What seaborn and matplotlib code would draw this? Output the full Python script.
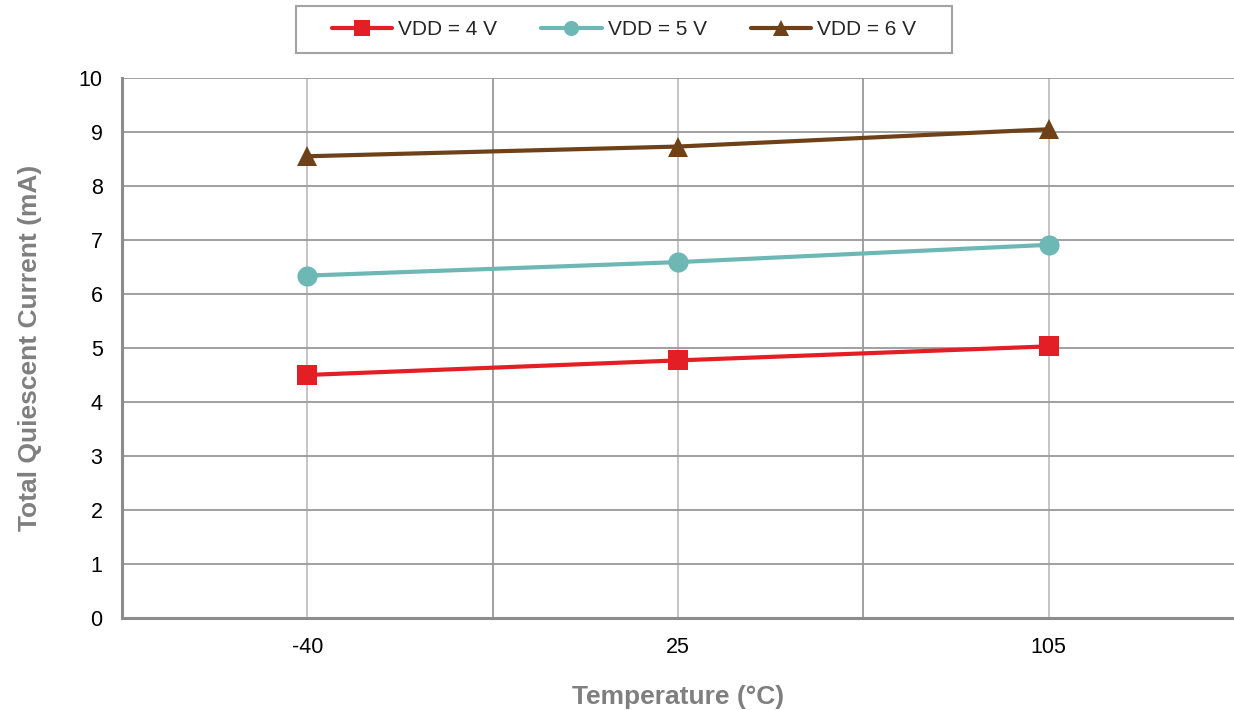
import pandas as pd
import numpy as np
import seaborn as sns
import matplotlib.pyplot as plt
from matplotlib.ticker import FixedLocator

temps = ["-40", "25", "105"]
vdd4 = [4.50, 4.77, 5.03]
vdd5 = [6.34, 6.59, 6.91]
vdd6 = [8.55, 8.73, 9.05]
series_names = ["VDD = 4 V", "VDD = 5 V", "VDD = 6 V"]

rows = []
for name, vals in zip(series_names, [vdd4, vdd5, vdd6]):
    for t, v in zip(temps, vals):
        rows.append({"Temperature": t, "Current": v, "Series": name})
df = pd.DataFrame(rows)

sns.set_style("white")
plt.rcParams['font.family'] = ['Liberation Sans', 'DejaVu Sans']

fig = plt.figure(figsize=(12.34, 7.10), dpi=100)
ax = fig.add_axes([0.0989, 0.1296, 0.9011, 0.7606])

palette = {"VDD = 4 V": "#E31E24", "VDD = 5 V": "#6DB8B5", "VDD = 6 V": "#6F4119"}
markers = {"VDD = 4 V": "s", "VDD = 5 V": "o", "VDD = 6 V": "^"}

sns.lineplot(data=df, x="Temperature", y="Current", hue="Series", style="Series",
             palette=palette, markers=markers, dashes=False, sort=False,
             linewidth=3, markersize=14.5, markeredgewidth=0, ax=ax, zorder=3)

ax.set_xlim(-0.5, 2.5)
ax.set_ylim(0, 10)
ax.set_yticks(range(0, 11))
ax.set_xticks(range(len(temps)))
ax.set_xticklabels(temps)
ax.xaxis.set_minor_locator(FixedLocator([0.5, 1.5]))

ax.grid(True, axis="y", color="#999999", linewidth=1.3, zorder=0)
ax.grid(True, axis="x", which="major", color="#c0c0c0", linewidth=1.3, zorder=0)
ax.grid(True, axis="x", which="minor", color="#999999", linewidth=1.3, zorder=0)

for s in ["top", "right"]:
    ax.spines[s].set_visible(False)
for s in ["left", "bottom"]:
    ax.spines[s].set_color("#8c8c8c")
    ax.spines[s].set_linewidth(2.2)

ax.tick_params(axis="both", which="major", labelsize=15.5, colors="#8c8c8c",
               labelcolor="#000000", length=6, width=1.5, direction="out")
ax.tick_params(axis="x", which="major", colors="#c0c0c0", labelcolor="#000000", pad=8)
ax.tick_params(axis="x", which="minor", length=0)
ax.tick_params(axis="y", pad=8)

ax.set_xlabel("Temperature (°C)", fontsize=19, fontweight="bold", color="#7f7f7f", labelpad=19)
ax.set_ylabel("Total Quiescent Current (mA)", fontsize=19, fontweight="bold", color="#7f7f7f", labelpad=26)

handles, labels = ax.get_legend_handles_labels()
ax.get_legend().remove()
leg = fig.legend(handles, labels, loc="center", bbox_to_anchor=(0.5057, 0.958), ncol=3,
                 fontsize=15, frameon=True, fancybox=False, edgecolor="#8c8c8c",
                 handlelength=2.9, handletextpad=0.3, columnspacing=2.1,
                 borderpad=0.5, markerscale=0.75)
# wider side padding than top/bottom, like the original box
leg.legendPatch.set_boxstyle("square", pad=1.2)
leg.legendPatch.set_mutation_aspect(0.15)
leg.get_frame().set_linewidth(1.5)

plt.savefig("out.png", dpi=100)
